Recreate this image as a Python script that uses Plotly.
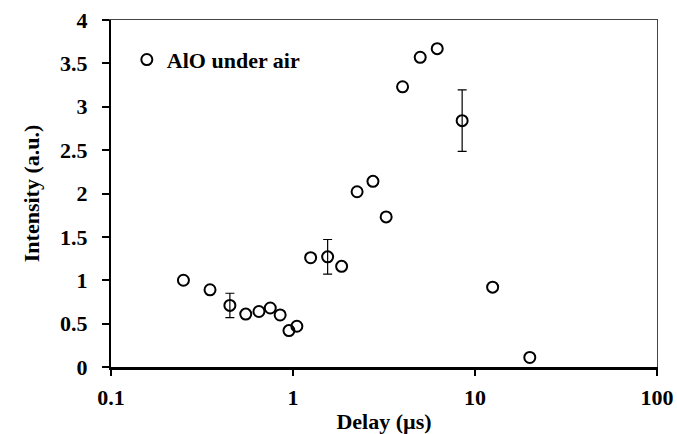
import plotly.graph_objects as go

delay_us = [0.25, 0.35, 0.45, 0.55, 0.65, 0.75, 0.85, 0.95, 1.05, 1.25, 1.55,
            1.85, 2.25, 2.75, 3.25, 4.0, 5.0, 6.2, 8.5, 12.5, 20.0]
intensity = [1.0, 0.89, 0.71, 0.61, 0.64, 0.68, 0.60, 0.42, 0.47, 1.26, 1.27,
             1.16, 2.02, 2.14, 1.73, 3.23, 3.57, 3.67, 2.84, 0.92, 0.11]
error = [None, None, 0.14, None, None, None, None, None, None, None, 0.20,
         None, None, None, None, None, None, None, 0.355, None, None]

x_ticks = [0.1, 1, 10, 100]
x_tick_labels = ["0.1", "1", "10", "100"]
y_ticks = [0, 0.5, 1, 1.5, 2, 2.5, 3, 3.5, 4]
y_tick_labels = ["0", "0.5", "1", "1.5", "2", "2.5", "3", "3.5", "4"]

FONT = "Liberation Serif, Times New Roman, serif"
FS = 22

# points that carry an error bar
err_idx = [i for i, e in enumerate(error) if e is not None]
err_x = [delay_us[i] for i in err_idx]
err_y = [intensity[i] for i in err_idx]
err_v = [error[i] for i in err_idx]

fig = go.Figure()
fig.add_trace(go.Scatter(
    x=err_x, y=err_y, mode="markers", showlegend=False, hoverinfo="skip",
    marker=dict(size=1, color="rgba(0,0,0,0)"),
    error_y=dict(type="data", array=err_v, visible=True, color="black",
                 thickness=1.2, width=4.5),
))
fig.add_trace(go.Scatter(
    x=delay_us, y=intensity, mode="markers", name="AlO under air",
    marker=dict(symbol="circle-open", size=11, color="black",
                line=dict(width=2, color="black")),
))
# helper trace for top/right frame axes
fig.add_trace(go.Scatter(x=[None], y=[None], xaxis="x2", yaxis="y2",
                         showlegend=False, hoverinfo="skip"))

fig.update_layout(
    template="none",
    width=677, height=434,
    margin=dict(l=111, r=20, t=20, b=67, pad=0, autoexpand=False),
    paper_bgcolor="white", plot_bgcolor="white",
    font=dict(family=FONT, size=FS, color="black", weight="bold"),
    showlegend=True,
    legend=dict(x=0.029, y=0.946, xanchor="left", yanchor="top",
                bgcolor="rgba(0,0,0,0)", borderwidth=0,
                font=dict(family=FONT, size=FS, color="black", weight="bold"),
                itemwidth=30),
    xaxis=dict(type="log", range=[-1, 2], tickvals=x_ticks, ticktext=x_tick_labels,
               ticks="outside", ticklen=6, tickwidth=1.5, tickcolor="black",
               tickfont=dict(family=FONT, size=FS, weight="bold"),
               ticklabelstandoff=3, automargin=False,
               showline=True, linecolor="black", linewidth=2.5,
               showgrid=False, zeroline=False,
               title=dict(text="Delay (µs)", standoff=6,
                          font=dict(family=FONT, size=FS, weight="bold"))),
    xaxis2=dict(overlaying="x", side="top", showline=True, linecolor="#444",
                linewidth=1.2, showticklabels=False, ticks="", showgrid=False,
                zeroline=False, range=[0, 1], automargin=False),
    yaxis=dict(range=[0, 4], tickvals=y_ticks, ticktext=y_tick_labels,
               ticks="outside", ticklen=7, tickwidth=1.5, tickcolor="black",
               tickfont=dict(family=FONT, size=FS, weight="bold"),
               ticklabelstandoff=10, automargin=False,
               showline=True, linecolor="black", linewidth=2,
               showgrid=False, zeroline=False,
               title=dict(text="Intensity (a.u.)", standoff=14,
                          font=dict(family=FONT, size=FS, weight="bold"))),
    yaxis2=dict(overlaying="y", side="right", showline=True, linecolor="#444",
                linewidth=1.2, showticklabels=False, ticks="", showgrid=False,
                zeroline=False, range=[0, 1], automargin=False),
)

fig.write_html("out.html", config={"displayModeBar": False},
               post_script="document.body.style.margin='0';"
                           "document.body.style.overflow='hidden';")
